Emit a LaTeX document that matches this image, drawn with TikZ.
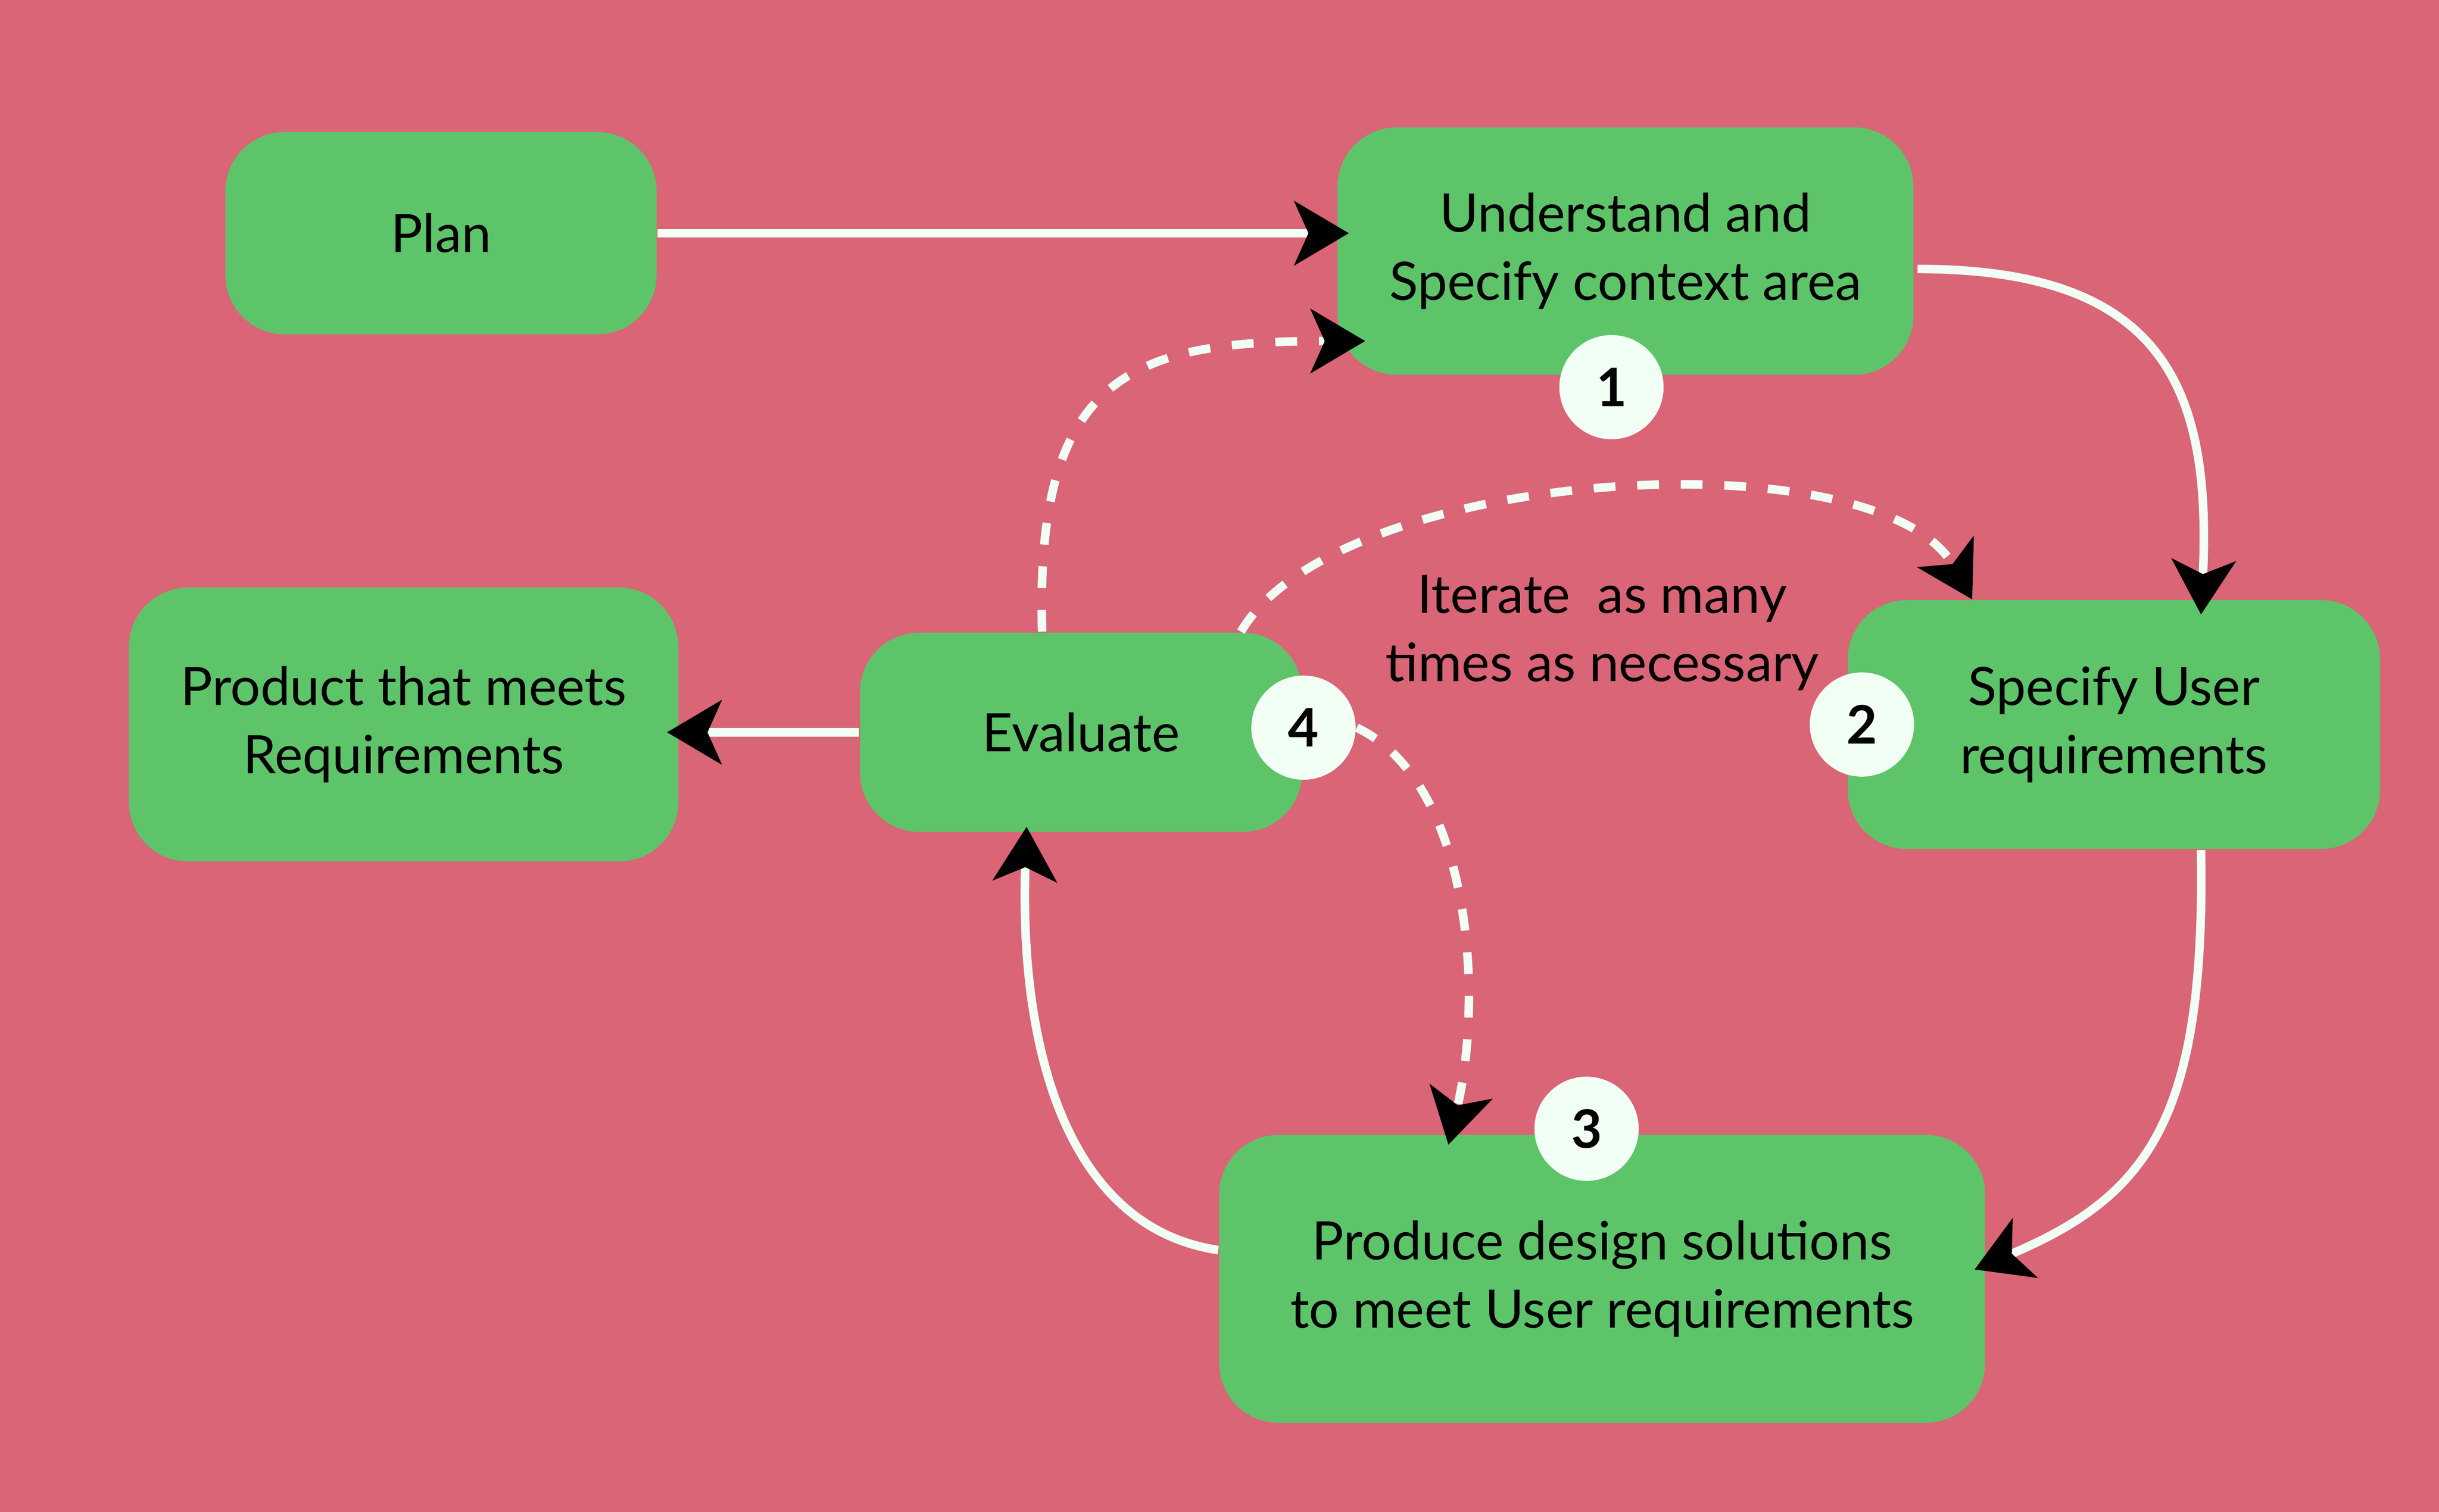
\documentclass[tikz,border=0pt]{standalone}
\usepackage{fontspec}
\setmainfont{Lato}
\usetikzlibrary{arrows.meta,calc}
\definecolor{bg}{HTML}{D96577}
\definecolor{boxgreen}{HTML}{5EC46A}
\definecolor{mint}{HTML}{F2FFF4}
\begin{document}
\begin{tikzpicture}[x=0.01cm,y=-0.01cm,
  txt/.style={font=\fontsize{9.7}{12.5}\selectfont, align=center, text=black},
  box/.style={txt, rounded corners=0.38cm, fill=boxgreen, inner sep=0pt},
  num/.style={circle, fill=mint, minimum size=0.67cm, inner sep=0pt, font=\fontsize{9.7}{12}\selectfont\bfseries},
  conn/.style={draw=mint, line width=0.055cm, -{Stealth[length=0.35cm,width=0.41cm,inset=0.09cm,color=black]}},
  dashconn/.style={conn, dash pattern=on 0.14cm off 0.14cm},
]
\fill[bg] (0,0) rectangle (1568,972.4);
\useasboundingbox (0,0) rectangle (1568,972.4);

\node[box, minimum width=2.77cm, minimum height=1.30cm] (plan) at (283.5,150) {Plan};
\node[box, minimum width=3.70cm, minimum height=1.59cm] (understand) at (1045,161.5) {Understand and\\Specify context area};
\node[box, minimum width=3.42cm, minimum height=1.60cm] (specify) at (1359,466) {Specify User\\requirements};
\node[box, minimum width=4.92cm, minimum height=1.85cm] (produce) at (1030,822.5) {Produce design solutions\\to meet User requirements};
\node[box, minimum width=2.84cm, minimum height=1.28cm] (evaluate) at (695,471) {Evaluate};
\node[box, minimum width=3.53cm, minimum height=1.76cm] (product) at (259.5,466) {Product that meets\\Requirements};

\node[txt] (iter) at (1030,407) {Iterate~ as many\\times as necessary};

\draw[conn] (plan.east) -- ($(plan.east -| understand.west)+(8,0)$);
\draw[conn] ($(understand.east)+(2,11.5)$) .. controls +(158,0) and +(7,-146) .. ($(specify.north)+(56,10)$);
\draw[conn] ($(specify.south)+(56,0)$) .. controls +(3,174) and +(111,-47) .. ($(produce.east)+(-7.4,-6)$);
\draw[conn] ($(produce.west)+(0,-18.5)$) .. controls +(-94,-14) and +(-5,149) .. ($(evaluate.south)+(-35,-4)$);
\draw[conn] (evaluate.west) -- ($(evaluate.west -| product.east)+(-8,0)$);
\draw[dashconn] ($(evaluate.north)+(-25,0)$) .. controls +(-5,-167) and +(-148,0) .. ($(understand.south west)+(18.5,-22.4)$);
\draw[dashconn] ($(evaluate.north east)+(-40,0)$) .. controls +(63,-107) and +(-59,-106) .. ($(specify.north west)+(80.7,0.3)$);

\node[num] (c1) at (1036,249) {1};
\node[num] (c2) at (1197,466) {2};
\node[num] (c3) at (1020,726) {3};
\node[num] (c4) at (838,468) {4};

\draw[dashconn] (c4.east) .. controls +(73,35) and +(23,-97) .. ($(produce.north west)+(148,7)$);
\end{tikzpicture}
\end{document}
